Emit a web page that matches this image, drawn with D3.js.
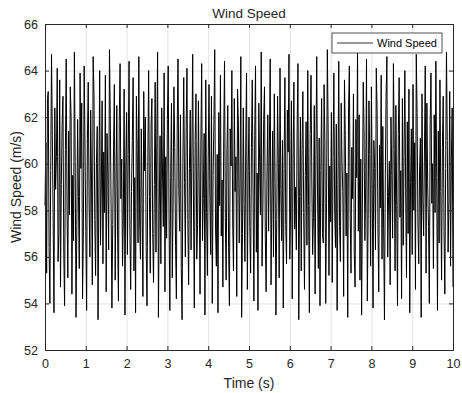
<!DOCTYPE html>
<html>
<head>
<meta charset="utf-8">
<script src="https://cdn.jsdelivr.net/npm/d3@7"></script>
<style>
  body { margin: 0; background: #fff; }
  svg { display: block; font-family: "Liberation Sans", Arial, sans-serif; }
</style>
</head>
<body>
<svg id="chart" width="462" height="393"></svg>
<script>
// wind speed samples, one every 0.02 s
const WIND = [
  58.2, 60.9, 55.3, 62.8, 63.1, 56.4, 54.0, 59.7, 64.7, 61.2, 57.5, 53.6, 62.4, 58.9, 60.3, 64.1, 55.8, 57.0, 63.6, 54.7, 59.1, 61.7, 62.9, 56.2, 53.9,
  60.6, 64.5, 58.0, 55.1, 61.4, 57.8, 63.3, 62.0, 54.4, 59.5, 56.7, 64.8, 60.1, 53.4, 57.3, 61.9, 58.6, 55.5, 63.9, 59.8, 62.6, 54.2, 56.9, 64.2, 60.8,
  57.1, 53.7, 61.1, 63.5, 58.4, 56.0, 62.3, 59.3, 54.8, 64.6, 63.0, 57.6, 55.2, 60.0, 61.6, 53.3, 58.7, 64.0, 56.5, 59.0, 62.7, 55.7, 60.5, 57.9, 63.8,
  54.5, 61.3, 59.6, 56.3, 64.9, 62.1, 58.1, 53.8, 57.4, 60.7, 63.4, 55.0, 59.2, 62.5, 56.8, 54.1, 61.8, 64.3, 58.5, 60.2, 55.6, 57.7, 63.2, 53.5, 59.9,
  62.2, 56.1, 60.4, 64.4, 57.2, 54.6, 58.8, 61.0, 63.7, 55.4, 59.4, 53.6, 62.9, 60.6, 56.6, 64.6, 57.5, 55.9, 61.5, 58.3, 54.3, 63.1, 59.7, 62.0, 56.4,
  53.9, 60.1, 64.0, 58.6, 55.3, 61.7, 62.8, 57.0, 54.9, 59.1, 63.5, 56.2, 60.9, 64.8, 53.4, 58.0, 61.2, 55.7, 62.4, 59.6, 57.3, 63.9, 54.5, 60.3, 56.8,
  61.9, 64.2, 57.8, 53.7, 59.4, 62.6, 55.1, 58.4, 63.3, 60.7, 56.5, 54.2, 61.4, 64.5, 58.9, 57.1, 62.1, 55.5, 53.3, 60.0, 63.7, 59.2, 56.0, 61.6, 64.1,
  57.6, 54.8, 59.8, 62.3, 56.3, 60.5, 64.7, 58.1, 53.8, 61.0, 63.0, 55.9, 57.4, 62.7, 59.0, 54.4, 60.8, 64.3, 56.7, 58.5, 61.3, 53.5, 63.6, 57.9, 55.2,
  60.2, 63.4, 58.7, 56.1, 62.9, 54.0, 59.5, 61.8, 64.9, 57.2, 55.6, 60.4, 53.6, 62.2, 58.2, 63.8, 56.9, 59.3, 54.7, 61.1, 64.4, 57.7, 55.0, 60.6, 62.5,
  56.4, 53.9, 61.5, 59.9, 64.0, 57.5, 55.4, 62.8, 58.8, 60.3, 54.3, 63.2, 61.7, 56.6, 59.1, 64.6, 53.4, 57.0, 62.4, 58.3, 55.8, 60.9, 63.9, 54.6, 59.7,
  62.0, 57.3, 55.3, 60.7, 63.6, 58.6, 54.1, 61.2, 64.2, 56.2, 59.6, 53.7, 62.6, 60.1, 57.8, 64.8, 55.6, 58.0, 61.9, 63.3, 56.8, 54.5, 59.4, 62.1, 57.1,
  60.8, 64.5, 54.8, 58.4, 61.4, 56.0, 63.0, 59.2, 53.5, 57.6, 62.9, 60.0, 55.1, 64.1, 58.9, 56.7, 61.0, 53.8, 59.8, 63.7, 57.4, 55.7, 62.3, 60.5, 64.7,
  55.9, 58.1, 62.7, 54.2, 60.2, 63.5, 57.2, 59.0, 56.3, 61.6, 64.3, 53.3, 58.6, 62.0, 55.4, 60.6, 63.1, 57.9, 54.6, 59.5, 61.8, 56.5, 64.0, 58.2, 53.6,
  61.3, 63.8, 59.3, 56.1, 57.7, 62.5, 54.4, 60.4, 64.6, 58.7, 55.5, 61.1, 53.9, 59.7, 62.8, 57.0, 56.6, 63.4, 60.9, 54.0, 58.3, 64.9, 61.5, 55.2, 59.9,
  57.5, 62.2, 54.9, 60.3, 63.9, 58.0, 56.4, 61.7, 53.7, 59.1, 64.4, 57.3, 55.8, 62.6, 60.0, 58.8, 54.3, 63.6, 61.2, 56.9, 59.6, 53.4, 62.4, 64.2, 57.8,
  55.3, 60.7, 58.5, 63.0, 56.2, 54.7, 61.9, 59.4, 64.8, 57.1, 62.1, 55.0, 60.2, 53.5, 58.4, 63.5, 61.4, 56.7, 59.0, 64.5, 54.1, 57.6, 62.7, 60.4, 55.6,
  63.3, 58.9, 53.8, 61.0, 59.8, 56.3, 64.1, 62.3, 57.4, 54.5, 60.8, 58.1, 63.8, 55.9, 61.6, 57.2, 53.3, 59.3, 62.9, 64.6, 56.0, 58.6, 60.1, 54.8, 62.0,
  59.5, 56.8, 64.3, 60.6, 55.4, 62.5, 58.2, 53.9, 61.3, 63.7, 57.7, 59.7, 54.2, 62.8, 56.5, 60.3, 64.0, 58.7, 55.1, 61.8, 57.0, 63.2, 53.6, 59.2, 61.5,
  56.1, 63.4, 58.0, 60.9, 54.6, 64.7, 62.2, 57.5, 55.7, 59.6, 61.1, 53.4, 63.0, 58.5, 56.9, 60.5, 64.2, 55.3, 62.6, 59.0, 57.3, 54.0, 61.7, 63.9, 58.3,
  60.0, 55.5, 62.1, 57.9, 64.4, 59.4, 53.7, 61.4, 56.6, 63.6, 58.8, 55.0, 60.7, 62.9, 57.1, 54.4, 59.8, 64.8, 61.0, 56.2, 58.4, 63.1, 55.6, 60.2, 62.4,
  54.7
];
const STEP = 0.02;
const X_TICKS = [0, 1, 2, 3, 4, 5, 6, 7, 8, 9, 10];
const Y_TICKS = [52, 54, 56, 58, 60, 62, 64, 66];

const TITLE = "Wind Speed";
const X_LABEL = "Time (s)";
const Y_LABEL = "Wind Speed (m/s)";
const SERIES_NAME = "Wind Speed";

const MARGIN = { top: 24, right: 9, bottom: 43, left: 45 };
const AXIS_COLOR = "#262626";
const GRID_COLOR = "#e3e3e3";

const svg = d3.select("#chart");
const width = +svg.attr("width") - MARGIN.left - MARGIN.right;
const height = +svg.attr("height") - MARGIN.top - MARGIN.bottom;

const data = WIND.map((v, i) => ({ t: i * STEP, v: v }));

const x = d3.scaleLinear().domain([0, 10]).range([0, width]);
const y = d3.scaleLinear().domain([52, 66]).range([height, 0]);

const g = svg.append("g").attr("transform", `translate(${MARGIN.left},${MARGIN.top})`);

// grid
g.append("g")
  .selectAll("line")
  .data(X_TICKS.slice(1, -1))
  .join("line")
  .attr("x1", (d) => x(d) + 0.5).attr("x2", (d) => x(d) + 0.5)
  .attr("y1", 0).attr("y2", height)
  .attr("stroke", GRID_COLOR).attr("stroke-width", 1);
g.append("g")
  .selectAll("line")
  .data(Y_TICKS.slice(1, -1))
  .join("line")
  .attr("y1", (d) => y(d) + 0.5).attr("y2", (d) => y(d) + 0.5)
  .attr("x1", 0).attr("x2", width)
  .attr("stroke", GRID_COLOR).attr("stroke-width", 1);

// the series
const line = d3.line().x((d) => x(d.t)).y((d) => y(d.v));
g.append("path")
  .datum(data)
  .attr("d", line)
  .attr("fill", "none")
  .attr("stroke", "#000")
  .attr("stroke-width", 1);

// axes, MATLAB box style with ticks inside on all four sides
const tickLen = 4;
const axBottom = g.append("g").attr("transform", `translate(0,${height})`)
  .call(d3.axisBottom(x).tickValues(X_TICKS).tickSize(-tickLen).tickPadding(9).tickFormat(d3.format("d")));
const axTop = g.append("g")
  .call(d3.axisTop(x).tickValues(X_TICKS).tickSize(-tickLen).tickFormat(""));
const axLeft = g.append("g")
  .call(d3.axisLeft(y).tickValues(Y_TICKS).tickSize(-tickLen).tickPadding(7).tickFormat(d3.format("d")));
const axRight = g.append("g").attr("transform", `translate(${width},0)`)
  .call(d3.axisRight(y).tickValues(Y_TICKS).tickSize(-tickLen).tickFormat(""));

[axBottom, axTop, axLeft, axRight].forEach((a) => {
  a.selectAll("path").attr("stroke", AXIS_COLOR).attr("stroke-width", 1);
  a.selectAll("line").attr("stroke", AXIS_COLOR).attr("stroke-width", 1);
  a.selectAll("text")
    .attr("fill", AXIS_COLOR)
    .style("font-family", '"Liberation Sans", Arial, sans-serif')
    .style("font-size", "12.5px");
});

// title and labels
svg.append("text")
  .attr("x", MARGIN.left + width / 2)
  .attr("y", 18)
  .attr("text-anchor", "middle")
  .attr("fill", AXIS_COLOR)
  .style("font-size", "13.5px")
  .text(TITLE);

svg.append("text")
  .attr("x", MARGIN.left + width / 2)
  .attr("y", 388)
  .attr("text-anchor", "middle")
  .attr("fill", AXIS_COLOR)
  .style("font-size", "14px")
  .text(X_LABEL);

svg.append("text")
  .attr("transform", `translate(21,${MARGIN.top + height / 2}) rotate(-90)`)
  .attr("text-anchor", "middle")
  .attr("fill", AXIS_COLOR)
  .style("font-size", "14px")
  .text(Y_LABEL);

// legend
const legend = svg.append("g").attr("transform", "translate(332,33)");
legend.append("rect")
  .attr("width", 110).attr("height", 20)
  .attr("fill", "#fff")
  .attr("stroke", AXIS_COLOR)
  .attr("stroke-width", 0.8);
legend.append("line")
  .attr("x1", 5).attr("x2", 41)
  .attr("y1", 10).attr("y2", 10)
  .attr("stroke", "#000").attr("stroke-width", 0.8);
legend.append("text")
  .attr("x", 45).attr("y", 14)
  .attr("fill", "#000")
  .style("font-size", "11px")
  .text(SERIES_NAME);
</script>
</body>
</html>
